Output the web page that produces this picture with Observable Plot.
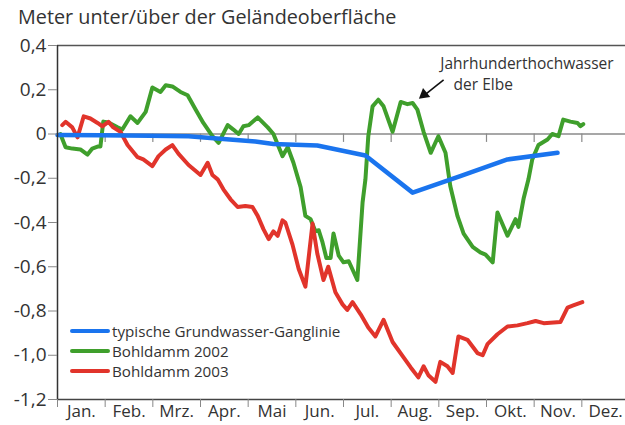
<!DOCTYPE html>
<html>
<head>
<meta charset="utf-8">
<script src="https://cdn.jsdelivr.net/npm/d3@7"></script>
<script src="https://cdn.jsdelivr.net/npm/@observablehq/plot@0.6"></script>
<style>
  html, body { margin: 0; padding: 0; background: #fff; }
  #wrap { position: relative; width: 625px; height: 425px; overflow: hidden; font-family: "Open Sans", "Noto Sans", sans-serif; color: #333; }
  #title { position: absolute; left: 18px; top: 3px; font-size: 19.8px; color: #333; white-space: nowrap; }
  .leg { position: absolute; left: 70px; font-size: 15.2px; color: #333; white-space: nowrap; display: flex; align-items: center; }
  .sw { width: 40px; height: 4px; border-radius: 2px; margin-right: 2px; }
  #chart { position: absolute; left: 0; top: 0; }
</style>
</head>
<body>
<div id="wrap">
  <div id="chart"></div>
  <div id="title"></div>
  <div id="legend"></div>
</div>
<script>
// ---- data ----
const monthLabels = ["Jan.", "Feb.", "Mrz.", "Apr.", "Mai", "Jun.", "Jul.", "Aug.", "Sep.", "Okt.", "Nov.", "Dez."];
const yTicks = [0.4, 0.2, 0, -0.2, -0.4, -0.6, -0.8, -1.0, -1.2];

const typischX = [0, 0.90, 1.95, 2.75, 3.21, 4.15, 4.53, 5.45, 6.46, 7.45, 8.45, 9.44, 10.49];
const typischY = [-0.005, -0.006, -0.008, -0.01, -0.018, -0.034, -0.045, -0.052, -0.097, -0.265, -0.19, -0.115, -0.085];

const bohl2002X = [0.06, 0.17, 0.31, 0.48, 0.63, 0.73, 0.84, 0.90, 0.96, 1.07, 1.26, 1.36, 1.53, 1.68, 1.85, 1.99, 2.16, 2.27, 2.41, 2.58, 2.73, 2.90, 3.06, 3.25, 3.38, 3.57, 3.69, 3.80, 3.90, 4.01, 4.20, 4.41, 4.53, 4.72, 4.83, 4.95, 5.10, 5.20, 5.31, 5.41, 5.48, 5.56, 5.64, 5.73, 5.79, 5.90, 6.00, 6.11, 6.29, 6.40, 6.46, 6.52, 6.61, 6.73, 6.84, 7.03, 7.20, 7.34, 7.45, 7.55, 7.68, 7.83, 7.99, 8.14, 8.24, 8.39, 8.52, 8.71, 8.87, 8.98, 9.13, 9.23, 9.44, 9.61, 9.67, 9.78, 9.88, 9.96, 10.09, 10.28, 10.38, 10.51, 10.61, 10.76, 10.91, 10.97, 11.03];
const bohl2002Y = [0.0, -0.06, -0.066, -0.07, -0.093, -0.066, -0.057, -0.057, 0.056, 0.052, 0.03, 0.02, 0.08, 0.05, 0.1, 0.21, 0.19, 0.22, 0.215, 0.19, 0.175, 0.11, 0.05, -0.01, -0.04, 0.04, 0.02, 0.0, 0.035, 0.04, 0.075, 0.03, 0.0, -0.1, -0.06, -0.13, -0.24, -0.37, -0.385, -0.44, -0.435, -0.49, -0.56, -0.56, -0.45, -0.55, -0.58, -0.575, -0.66, -0.31, -0.205, -0.01, 0.125, 0.155, 0.125, 0.01, 0.145, 0.135, 0.14, 0.11, 0.01, -0.085, -0.01, -0.085, -0.235, -0.37, -0.45, -0.51, -0.535, -0.545, -0.58, -0.355, -0.46, -0.385, -0.42, -0.29, -0.205, -0.115, -0.05, -0.025, 0.0, -0.01, 0.065, 0.056, 0.05, 0.035, 0.045];

const bohl2003X = [0.10, 0.17, 0.31, 0.42, 0.55, 0.69, 0.84, 0.94, 1.07, 1.17, 1.32, 1.47, 1.68, 1.80, 1.99, 2.12, 2.27, 2.41, 2.54, 2.75, 3.00, 3.15, 3.25, 3.36, 3.48, 3.63, 3.78, 3.94, 4.09, 4.20, 4.32, 4.43, 4.53, 4.62, 4.72, 4.78, 4.93, 5.06, 5.20, 5.35, 5.45, 5.58, 5.68, 5.83, 5.98, 6.08, 6.19, 6.36, 6.52, 6.67, 6.84, 7.03, 7.26, 7.41, 7.57, 7.68, 7.78, 7.93, 8.03, 8.18, 8.29, 8.41, 8.60, 8.81, 8.92, 9.02, 9.23, 9.44, 9.65, 9.86, 10.03, 10.20, 10.55, 10.70, 10.82, 11.01];
const bohl2003Y = [0.04, 0.055, 0.03, -0.015, 0.08, 0.07, 0.05, 0.035, 0.055, 0.03, 0.01, -0.05, -0.105, -0.115, -0.145, -0.1, -0.07, -0.05, -0.09, -0.14, -0.185, -0.13, -0.185, -0.205, -0.25, -0.295, -0.33, -0.325, -0.33, -0.37, -0.43, -0.475, -0.44, -0.46, -0.39, -0.4, -0.5, -0.61, -0.69, -0.405, -0.54, -0.66, -0.6, -0.715, -0.77, -0.795, -0.76, -0.815, -0.875, -0.915, -0.84, -0.94, -1.01, -1.055, -1.1, -1.05, -1.09, -1.12, -1.03, -1.05, -1.08, -0.915, -0.93, -0.99, -1.0, -0.95, -0.905, -0.87, -0.865, -0.855, -0.845, -0.855, -0.85, -0.785, -0.775, -0.76];

const seriesNames = ["typische Grundwasser-Ganglinie", "Bohldamm 2002", "Bohldamm 2003"];
const seriesColors = ["#1a74ee", "#3f9f2c", "#e1342b"];
const titleText = "Meter unter/über der Geländeoberfläche";
const annotationLines = ["Jahrhunderthochwasser", "der Elbe"];

// ---- build ----
const zip = (xs, ys, s) => xs.map((x, i) => ({x, y: ys[i], s}));
const typ = zip(typischX, typischY, seriesNames[0]);
const b02 = zip(bohl2002X, bohl2002Y, seriesNames[1]);
const b03 = zip(bohl2003X, bohl2003Y, seriesNames[2]);

const monthStarts = d3.range(0, 12);
const monthMids = monthStarts.map(m => m + 0.5);
const fmt = d => d === 0 ? "0" : d.toFixed(1).replace(".", ",");
const font = '"Open Sans", "Noto Sans", sans-serif';

const annot = [
  {x: 8.03, y: 0.318, t: annotationLines[0]},
  {x: 8.31, y: 0.222, t: annotationLines[1]}
];
const arrowLine = [{x1: 8.10, y1: 0.245, x2: 7.70, y2: 0.176}];
const arrowHead = [{x: 7.69, y: 0.178}];

const chart = Plot.plot({
  width: 625,
  height: 425,
  marginLeft: 57,
  marginRight: 0,
  marginTop: 45,
  marginBottom: 26,
  x: {domain: [0, 12], range: [57, 629]},
  y: {domain: [-1.2, 0.4]},
  style: {fontFamily: font, color: "#333", background: "transparent", overflow: "hidden"},
  marks: [
    Plot.ruleY([0.4], {stroke: "#555", strokeWidth: 1.5, x1: 0, x2: 12}),
    Plot.ruleY([0], {stroke: "#8a8a8a", strokeWidth: 1.3, x1: 0, x2: 12}),
    Plot.ruleX(monthStarts.slice(1), {y1: 0, y2: -0.038, stroke: "#8a8a8a", strokeWidth: 1.2}),
    Plot.line(b02, {x: "x", y: "y", stroke: seriesColors[1], strokeWidth: 4, strokeLinejoin: "round", strokeLinecap: "round"}),
    Plot.line(b03, {x: "x", y: "y", stroke: seriesColors[2], strokeWidth: 4, strokeLinejoin: "round", strokeLinecap: "round"}),
    Plot.line(typ, {x: "x", y: "y", stroke: seriesColors[0], strokeWidth: 4.5, strokeLinejoin: "round", strokeLinecap: "round"}),
    Plot.ruleY([-1.2], {stroke: "#444", strokeWidth: 1.5, x1: 0, x2: 12}),
    Plot.ruleX([0], {stroke: "#333", strokeWidth: 1.5, y1: -1.2, y2: 0.4}),
    Plot.axisY({ticks: yTicks, tickFormat: fmt, tickSize: 9, tickPadding: 2, fontSize: 19, stroke: "#888", color: "#333", label: null}),
    Plot.axisX({ticks: monthStarts, tickFormat: () => "", tickSize: 8, stroke: "#888", label: null}),
    Plot.axisX({ticks: monthMids, tickFormat: d => monthLabels[Math.floor(d)], tickSize: 0, tickPadding: 5, fontSize: 17, color: "#333", label: null}),
    Plot.link(arrowLine, {x1: "x1", y1: "y1", x2: "x2", y2: "y2", stroke: "#111", strokeWidth: 1.6}),
    Plot.dot(arrowHead, {x: "x", y: "y", symbol: "triangle2", r: 5.5, fill: "#111", stroke: "none", rotate: 231}),
    Plot.text(annot, {x: "x", y: "y", text: "t", textAnchor: "start", fontSize: 15.5, fill: "#333"})
  ]
});
document.getElementById("chart").appendChild(chart);

document.getElementById("title").textContent = titleText;
const leg = document.getElementById("legend");
const legTops = [321, 341, 361];
seriesNames.forEach((n, i) => {
  const row = document.createElement("div");
  row.className = "leg";
  row.style.top = legTops[i] + "px";
  const sw = document.createElement("div");
  sw.className = "sw";
  sw.style.background = seriesColors[i];
  const tx = document.createElement("span");
  tx.textContent = n;
  row.appendChild(sw);
  row.appendChild(tx);
  leg.appendChild(row);
});
</script>
</body>
</html>
